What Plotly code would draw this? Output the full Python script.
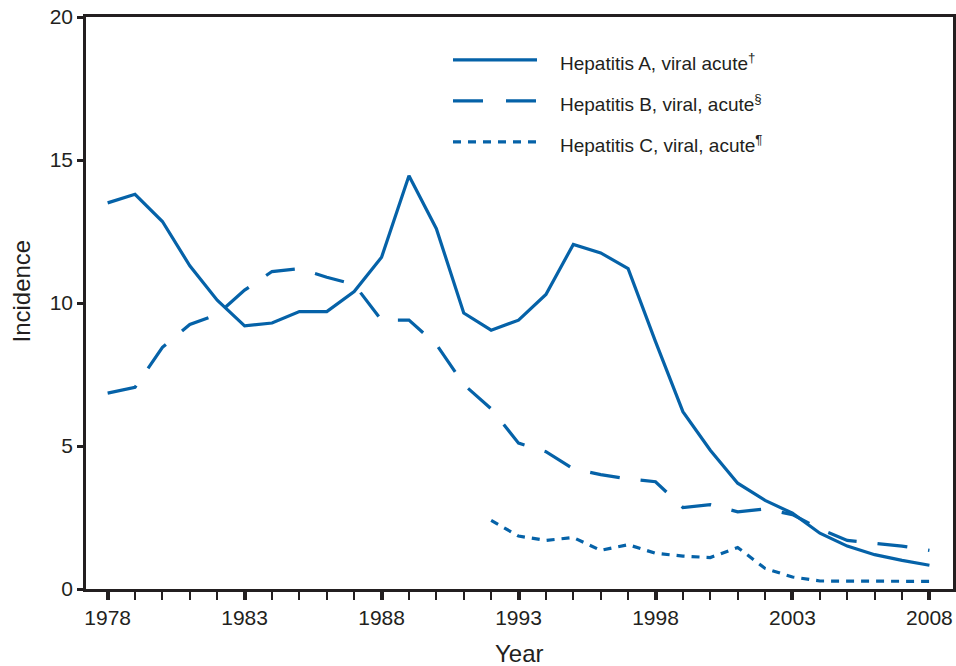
import plotly.graph_objects as go

years = list(range(1978, 2009))

hep_a = [13.5, 13.8, 12.85, 11.3, 10.1, 9.2, 9.3, 9.7, 9.7, 10.4, 11.6, 14.45,
         12.6, 9.65, 9.05, 9.4, 10.3, 12.05, 11.75, 11.2, 8.65, 6.2, 4.85, 3.7,
         3.1, 2.65, 1.95, 1.5, 1.2, 1.0, 0.83]

hep_b = [6.85, 7.05, 8.45, 9.25, 9.6, 10.45, 11.1, 11.2, 10.9, 10.65, 9.4, 9.4,
         8.55, 7.15, 6.3, 5.1, 4.8, 4.2, 4.0, 3.85, 3.75, 2.85, 2.95, 2.7,
         2.8, 2.6, 2.1, 1.7, 1.6, 1.5, 1.35]

years_c = list(range(1992, 2009))
hep_c = [2.4, 1.85, 1.7, 1.8, 1.35, 1.55, 1.25, 1.15, 1.1, 1.45, 0.72, 0.42,
         0.28, 0.27, 0.27, 0.27, 0.27]

series_names = ["Hepatitis A, viral acute<sup>†</sup>",
                "Hepatitis B, viral, acute<sup>§</sup>",
                "Hepatitis C, viral, acute<sup>¶</sup>"]

y_ticks = [0, 5, 10, 15, 20]
x_ticks = [1978, 1983, 1988, 1993, 1998, 2003, 2008]

BLUE = "#0562a8"
INK = "#231f20"
FONT = "Liberation Sans, Arial, sans-serif"

fig = go.Figure()
fig.add_trace(go.Scatter(x=years, y=hep_a, mode="lines", name=series_names[0],
                         line=dict(color=BLUE, width=3.2), showlegend=False))
fig.add_trace(go.Scatter(x=years, y=hep_b, mode="lines", name=series_names[1],
                         line=dict(color=BLUE, width=3.2, dash="30px,21px"), showlegend=False))
fig.add_trace(go.Scatter(x=years_c, y=hep_c, mode="lines", name=series_names[2],
                         line=dict(color=BLUE, width=3.2, dash="8px,7px"), showlegend=False))

# legend drawn manually (paper coordinates)
W_PLOT = 867.0
H_PLOT = 573.0
L0, T0 = 86.0, 17.0

def px(xp):
    return (xp - L0) / W_PLOT

def py(yp):
    return 1 - (yp - T0) / H_PLOT

legend_rows = [(60, "solid"), (101, "30px,23px"), (142, "8px,7px")]
for (yrow, dash), name in zip(legend_rows, series_names):
    fig.add_shape(type="line", xref="paper", yref="paper",
                  x0=px(453), x1=px(537), y0=py(yrow), y1=py(yrow),
                  line=dict(color=BLUE, width=3.2, dash=dash))
    fig.add_annotation(xref="paper", yref="paper", x=px(558), y=py(yrow + 2),
                       text=name, showarrow=False, xanchor="left", yanchor="middle",
                       font=dict(family=FONT, size=19, color=INK))

# axis titles
fig.add_annotation(xref="paper", yref="paper", x=px(519), y=py(655),
                   text="Year", showarrow=False, xanchor="center", yanchor="middle",
                   font=dict(family=FONT, size=24, color=INK))
fig.add_annotation(xref="paper", yref="paper", x=px(22), y=py(292),
                   text="Incidence", showarrow=False, xanchor="center", yanchor="middle",
                   textangle=-90, font=dict(family=FONT, size=24, color=INK))

fig.update_layout(
    width=956, height=666,
    margin=dict(l=86, r=3, t=17, b=77),
    paper_bgcolor="white", plot_bgcolor="white",
    font=dict(family=FONT, color=INK, size=21),
)
fig.update_xaxes(
    range=[1977.21, 2008.86], automargin=False,
    tickmode="array", tickvals=x_ticks, ticktext=[str(v) for v in x_ticks],
    ticks="outside", ticklen=8, tickwidth=3.5, tickcolor=INK,
    minor=dict(dtick=1, tick0=1978, ticks="outside", ticklen=8, tickwidth=2, tickcolor=INK),
    showline=True, linecolor=INK, linewidth=2.5, mirror=True,
    showgrid=False, zeroline=False,
    tickfont=dict(size=21, color=INK),
)
fig.update_yaxes(
    range=[0, 20], automargin=False,
    tickmode="array", tickvals=y_ticks, ticktext=[str(v) for v in y_ticks],
    ticks="outside", ticklen=6, tickwidth=2.5, tickcolor=INK,
    showline=True, linecolor=INK, linewidth=2.5, mirror=True,
    showgrid=False, zeroline=False,
    tickfont=dict(size=21, color=INK),
)

fig.write_html(
    "out.html",
    config={"displayModeBar": False},
    post_script="document.body.style.margin='0';document.body.style.overflow='hidden';",
)
